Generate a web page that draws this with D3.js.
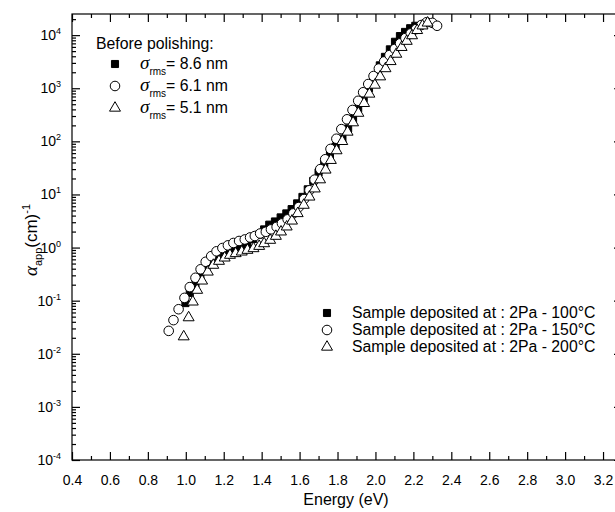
<!DOCTYPE html>
<html>
<head>
<meta charset="utf-8">
<script src="https://cdn.jsdelivr.net/npm/d3@7"></script>
<style>
  body { margin: 0; background: #fff; }
  svg { display: block; font-family: 'Liberation Sans', Arial, sans-serif; }
</style>
</head>
<body>
<div id="chart"></div>
<script>
// 2Pa - 100°C (sigma_rms = 8.6 nm), filled squares
const energy100 = [0.998, 1.021, 1.051, 1.077, 1.109, 1.139, 1.169, 1.201, 1.231, 1.263, 1.295, 1.325,
  1.355, 1.385, 1.413, 1.44, 1.47, 1.5, 1.53, 1.558, 1.587, 1.615, 1.643, 1.672, 1.70, 1.73, 1.76,
  1.79, 1.826, 1.856, 1.882, 1.909, 1.938, 1.966, 1.995, 2.023, 2.05, 2.076, 2.103, 2.129, 2.156, 2.183, 2.21];
const alpha100 = [0.09, 0.14, 0.21, 0.28, 0.39, 0.5, 0.62, 0.75, 0.87, 0.96, 1.05, 1.2,
  1.45, 1.75, 2.2, 2.7, 3.1, 3.7, 4.4, 5.3, 6.8, 9.0, 12.5, 18, 26, 38, 55,
  80, 113, 175, 270, 417, 650, 1000, 1700, 2700, 3900, 5400, 7500, 9600, 11500, 13500, 15000];

// 2Pa - 150°C (sigma_rms = 6.1 nm), open circles
const energy150 = [0.91, 0.935, 0.962, 0.993, 1.021, 1.051, 1.078, 1.105, 1.134, 1.162, 1.193, 1.222,
  1.251, 1.281, 1.311, 1.339, 1.364, 1.392, 1.422, 1.449, 1.479, 1.507, 1.537, 1.567, 1.596, 1.624,
  1.652, 1.679, 1.709, 1.735, 1.763, 1.794, 1.82, 1.85, 1.879, 1.909, 1.935, 1.962, 1.99, 2.018,
  2.046, 2.074, 2.102, 2.13, 2.158, 2.186, 2.214, 2.242, 2.27, 2.30, 2.325];
const alpha150 = [0.027, 0.043, 0.069, 0.113, 0.18, 0.27, 0.39, 0.54, 0.69, 0.85, 0.98, 1.1,
  1.22, 1.33, 1.42, 1.55, 1.65, 1.84, 1.98, 2.2, 2.45, 2.85, 3.4, 4.4, 5.8, 8.2,
  12, 19, 30, 46, 72, 112, 170, 260, 390, 580, 840, 1200, 1700, 2350,
  3200, 4200, 5500, 7000, 8800, 10800, 13000, 15500, 17500, 17000, 15000];

// 2Pa - 200°C (sigma_rms = 5.1 nm), open triangles
const energy200 = [0.989, 1.015, 1.037, 1.06, 1.086, 1.116, 1.145, 1.175, 1.205, 1.233, 1.263, 1.295,
  1.325, 1.357, 1.387, 1.413, 1.445, 1.475, 1.502, 1.532, 1.56, 1.59, 1.622, 1.652, 1.68, 1.708,
  1.737, 1.765, 1.795, 1.825, 1.853, 1.882, 1.91, 1.94, 1.968, 1.997, 2.025, 2.053, 2.08, 2.11,
  2.138, 2.165, 2.193, 2.22, 2.248, 2.275];
const alpha200 = [0.021, 0.048, 0.095, 0.158, 0.236, 0.348, 0.467, 0.555, 0.64, 0.72, 0.774, 0.83,
  0.893, 0.96, 1.06, 1.19, 1.38, 1.64, 1.98, 2.46, 3.18, 4.39, 6.3, 9.0, 12.8, 19,
  29, 44, 67, 100, 150, 225, 340, 520, 780, 1150, 1650, 2350, 3200, 4400,
  5900, 7700, 9800, 12300, 15000, 17000];

const xTicks = [0.4, 0.6, 0.8, 1.0, 1.2, 1.4, 1.6, 1.8, 2.0, 2.2, 2.4, 2.6, 2.8, 3.0, 3.2];
const yExponents = [-4, -3, -2, -1, 0, 1, 2, 3, 4];
const sigmaLabels = ['= 8.6 nm', '= 6.1 nm', '= 5.1 nm'];
const sampleLabels = ['Sample deposited at : 2Pa - 100°C', 'Sample deposited at : 2Pa - 150°C', 'Sample deposited at : 2Pa - 200°C'];

const width = 615;
const height = 512;
const margin = { top: 14, left: 72, bottom: 52 };
// the right frame sits just outside the picture, only its tick tips show
const plotRight = 622;
const legendFont = 15.8;

const svg = d3.select('#chart')
  .append('svg')
  .attr('width', width)
  .attr('height', height);

const x = d3.scaleLinear()
  .domain([0.4, 3.3])
  .range([margin.left, plotRight]);

const y = d3.scaleLog()
  .domain([1e-4, 2.5e4])
  .range([height - margin.bottom, margin.top]);

const xMinor = d3.range(0.5, 3.3, 0.2);
const yMinor = [];
yExponents.forEach(e => {
  for (let k = 2; k <= 9; k++) {
    const v = k * Math.pow(10, e);
    if (v < 2.5e4) yMinor.push(v);
  }
});

// frame
svg.append('rect')
  .attr('x', margin.left)
  .attr('y', margin.top)
  .attr('width', plotRight - margin.left)
  .attr('height', height - margin.bottom - margin.top)
  .attr('fill', 'none')
  .attr('stroke', '#000')
  .attr('stroke-width', 1.2);

function styleAxis(g) {
  g.select('.domain').remove();
  g.selectAll('.tick line').attr('stroke', '#000').attr('stroke-width', 1.2);
}

// bottom / top
svg.append('g')
  .attr('transform', 'translate(0,' + (height - margin.bottom) + ')')
  .call(d3.axisBottom(x).tickValues(xTicks).tickSize(-8).tickPadding(15).tickFormat(d3.format('.1f')))
  .call(styleAxis)
  .call(g => g.selectAll('.tick text')
    .attr('fill', '#000')
    .attr('font-size', 14)
    .attr('font-family', 'Liberation Sans, Arial, sans-serif'));

svg.append('g')
  .attr('transform', 'translate(0,' + (height - margin.bottom) + ')')
  .call(d3.axisBottom(x).tickValues(xMinor).tickSize(-4).tickFormat(''))
  .call(styleAxis);

svg.append('g')
  .attr('transform', 'translate(0,' + margin.top + ')')
  .call(d3.axisTop(x).tickValues(xTicks).tickSize(-8).tickFormat(''))
  .call(styleAxis);

svg.append('g')
  .attr('transform', 'translate(0,' + margin.top + ')')
  .call(d3.axisTop(x).tickValues(xMinor).tickSize(-4).tickFormat(''))
  .call(styleAxis);

// left / right
const yMajor = yExponents.map(e => Math.pow(10, e));

svg.append('g')
  .attr('transform', 'translate(' + margin.left + ',0)')
  .call(d3.axisLeft(y).tickValues(yMajor).tickSize(-8).tickPadding(11).tickFormat(''))
  .call(styleAxis)
  .call(g => g.selectAll('.tick text')
    .attr('fill', '#000')
    .attr('font-size', 14)
    .attr('font-family', 'Liberation Sans, Arial, sans-serif')
    .each(function (d) {
      const t = d3.select(this);
      t.append('tspan').text('10');
      t.append('tspan')
        .attr('dy', -6)
        .attr('font-size', 9)
        .text(Math.round(Math.log10(d)));
    }));

svg.append('g')
  .attr('transform', 'translate(' + margin.left + ',0)')
  .call(d3.axisLeft(y).tickValues(yMinor).tickSize(-4).tickFormat(''))
  .call(styleAxis);

svg.append('g')
  .attr('transform', 'translate(' + plotRight + ',0)')
  .call(d3.axisRight(y).tickValues(yMajor).tickSize(-8).tickFormat(''))
  .call(styleAxis);

svg.append('g')
  .attr('transform', 'translate(' + plotRight + ',0)')
  .call(d3.axisRight(y).tickValues(yMinor).tickSize(-4).tickFormat(''))
  .call(styleAxis);

// axis titles
svg.append('text')
  .attr('x', 346)
  .attr('y', 505)
  .attr('text-anchor', 'middle')
  .attr('font-size', 16)
  .text('Energy (eV)');

const yTitle = svg.append('text')
  .attr('transform', 'translate(37,240) rotate(-90)')
  .attr('text-anchor', 'middle')
  .attr('font-size', 17);
yTitle.append('tspan')
  .attr('font-family', 'Liberation Serif, Times New Roman, serif')
  .attr('font-style', 'italic')
  .attr('font-size', 19)
  .text('α');
yTitle.append('tspan').attr('font-size', 11).attr('dy', 5).text('app');
yTitle.append('tspan').attr('dy', -5).text('(cm)');
yTitle.append('tspan').attr('font-size', 11).attr('dy', -7).text('-1');

// markers
const symSquare = d3.symbol().type(d3.symbolSquare).size(50);
const symCircle = d3.symbol().type(d3.symbolCircle).size(72);
const symTriangle = d3.symbol().type(d3.symbolTriangle).size(52);

function drawSeries(energies, alphas, sym, fill) {
  svg.append('g')
    .selectAll('path')
    .data(energies.map((e, i) => ({ e: e, a: alphas[i] })))
    .join('path')
    .attr('d', sym)
    .attr('transform', d => 'translate(' + x(d.e) + ',' + y(d.a) + ')')
    .attr('fill', fill)
    .attr('stroke', '#000')
    .attr('stroke-width', 1);
}

drawSeries(energy100, alpha100, symSquare, '#000');
drawSeries(energy150, alpha150, symCircle, '#fff');
drawSeries(energy200, alpha200, symTriangle, '#fff');

// legends
const syms = [symSquare, symCircle, symTriangle];
const fills = ['#000', '#fff', '#fff'];

svg.append('text')
  .attr('x', 96)
  .attr('y', 49)
  .attr('font-size', legendFont)
  .text('Before polishing:');

const topRows = [64, 86, 108];
topRows.forEach((ry, i) => {
  svg.append('path')
    .attr('d', syms[i])
    .attr('transform', 'translate(115,' + ry + ')')
    .attr('fill', fills[i])
    .attr('stroke', '#000');
  const t = svg.append('text')
    .attr('x', 140)
    .attr('y', ry + 5)
    .attr('font-size', legendFont);
  t.append('tspan')
    .attr('font-family', 'Liberation Serif, Times New Roman, serif')
    .attr('font-style', 'italic')
    .attr('font-size', 19)
    .text('σ');
  t.append('tspan').attr('font-size', 10).attr('dy', 6).text('rms');
  t.append('tspan').attr('dy', -6).text(sigmaLabels[i]);
});

const bottomRows = [313, 330, 347];
bottomRows.forEach((ry, i) => {
  svg.append('path')
    .attr('d', syms[i])
    .attr('transform', 'translate(327,' + ry + ')')
    .attr('fill', fills[i])
    .attr('stroke', '#000');
  svg.append('text')
    .attr('x', 352)
    .attr('y', ry + 5)
    .attr('font-size', legendFont)
    .text(sampleLabels[i]);
});
</script>
</body>
</html>
